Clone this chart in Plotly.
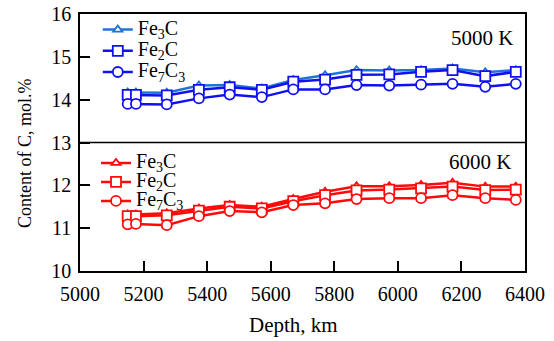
import plotly.graph_objects as go

depth = [5150, 5176, 5273, 5374, 5471, 5572, 5671, 5771, 5870, 5973, 6073, 6172, 6275, 6371]

fe3c_5000 = [14.17, 14.17, 14.16, 14.33, 14.34, 14.26, 14.46, 14.57, 14.69, 14.68, 14.69, 14.73, 14.64, 14.69]
fe2c_5000 = [14.11, 14.11, 14.10, 14.23, 14.29, 14.23, 14.42, 14.47, 14.58, 14.59, 14.65, 14.69, 14.55, 14.65]
fe7c3_5000 = [13.90, 13.90, 13.89, 14.03, 14.12, 14.06, 14.24, 14.24, 14.34, 14.33, 14.35, 14.37, 14.30, 14.37]

fe3c_6000 = [11.32, 11.32, 11.35, 11.46, 11.54, 11.50, 11.68, 11.85, 11.98, 11.98, 12.01, 12.06, 11.97, 11.97]
fe2c_6000 = [11.28, 11.28, 11.30, 11.41, 11.50, 11.46, 11.63, 11.77, 11.88, 11.90, 11.93, 11.97, 11.89, 11.90]
fe7c3_6000 = [11.09, 11.10, 11.07, 11.28, 11.40, 11.37, 11.54, 11.58, 11.68, 11.70, 11.70, 11.77, 11.70, 11.66]

names = ["Fe<sub>3</sub>C", "Fe<sub>2</sub>C", "Fe<sub>7</sub>C<sub>3</sub>"]
symbols = ["triangle-up", "square", "circle"]
sizes = [8, 10, 10]

FONT = "Liberation Serif, Times New Roman, serif"
blue_cols = ["#1f73d6", "#1010f2", "#1010f2"]
red = "#ff0a0a"


def big(t):
    return "<span style='font-size:20px'>" + t + "</span>"


fig = go.Figure()
for i, ys in enumerate([fe3c_5000, fe2c_5000, fe7c3_5000]):
    fig.add_trace(go.Scatter(
        x=depth, y=ys, name=big(names[i]), mode="lines+markers", legend="legend",
        line=dict(color=blue_cols[i], width=2.5),
        marker=dict(symbol=symbols[i], size=sizes[i], color="white",
                    line=dict(color=blue_cols[i], width=1.8)),
    ))
for i, ys in enumerate([fe3c_6000, fe2c_6000, fe7c3_6000]):
    fig.add_trace(go.Scatter(
        x=depth, y=ys, name=big(names[i]), mode="lines+markers", legend="legend2",
        line=dict(color=red, width=2.5),
        marker=dict(symbol=symbols[i], size=sizes[i], color="white",
                    line=dict(color=red, width=1.8)),
    ))

axis_common = dict(showgrid=False, zeroline=False, showline=True, linecolor="black",
                   linewidth=1.5, mirror=True, ticks="inside", ticklen=10,
                   tickwidth=1.5, tickcolor="black", automargin=False,
                   tickfont=dict(family=FONT, size=20, color="black"))

fig.update_xaxes(range=[5000, 6400], tickvals=[5000, 5200, 5400, 5600, 5800, 6000, 6200, 6400],
                 ticklabelstandoff=4, **axis_common)
fig.update_yaxes(range=[10, 16], tickvals=[10, 11, 12, 13, 14, 15, 16],
                 ticklabelstandoff=3, **axis_common)

fig.add_shape(type="line", xref="paper", x0=0, x1=1, yref="y", y0=13, y1=13,
              line=dict(color="black", width=1.5))

fig.update_layout(
    width=554, height=341,
    margin=dict(l=80, r=29, t=14, b=70, autoexpand=False),
    paper_bgcolor="white", plot_bgcolor="white",
    showlegend=True,
    legend=dict(x=0.040, y=1.0, xanchor="left", yanchor="top", tracegroupgap=0,
                font=dict(family=FONT, size=14, color="black"), bgcolor="rgba(0,0,0,0)"),
    legend2=dict(x=0.036, y=0.477, xanchor="left", yanchor="top", tracegroupgap=0,
                 font=dict(family=FONT, size=12, color="black"), bgcolor="rgba(0,0,0,0)"),
    annotations=[
        dict(text="5000 K", xref="paper", yref="paper", x=0.978, y=0.907,
             xanchor="right", yanchor="middle", showarrow=False,
             font=dict(family=FONT, size=21, color="black")),
        dict(text="6000 K", xref="paper", yref="paper", x=0.973, y=0.424,
             xanchor="right", yanchor="middle", showarrow=False,
             font=dict(family=FONT, size=21, color="black")),
        dict(text="Content of C, mol.%", xref="paper", yref="paper", x=-0.1236, y=0.459,
             xanchor="center", yanchor="middle", showarrow=False, textangle=-90,
             font=dict(family=FONT, size=18, color="black")),
        dict(text="Depth, km", xref="paper", yref="paper", x=0.479, y=-0.21,
             xanchor="center", yanchor="middle", showarrow=False,
             font=dict(family=FONT, size=21, color="black")),
    ],
)

fig.write_html("out.html", config={"displayModeBar": False},
               post_script="document.body.style.margin='0';")
